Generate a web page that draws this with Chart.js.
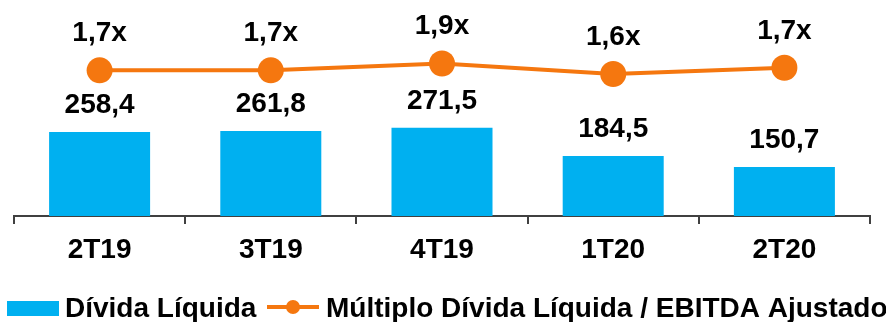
<!DOCTYPE html>
<html>
<head>
<meta charset="utf-8">
<script src="https://cdn.jsdelivr.net/npm/chart.js@4/dist/chart.umd.min.js"></script>
<style>
  html, body { margin: 0; padding: 0; background: #fff; }
  #wrap { width: 886px; height: 322px; position: relative; }
</style>
</head>
<body>
<div id="wrap"><canvas id="divChart"></canvas></div>
<script>
// chart data
const quarters = ['2T19', '3T19', '4T19', '1T20', '2T20'];
const dividaLiquida = [258.4, 261.8, 271.5, 184.5, 150.7];
const multiplo = [1.69, 1.69, 1.90, 1.58, 1.77];
const multiploLabels = ['1,7x', '1,7x', '1,9x', '1,6x', '1,7x'];

const BLUE = '#00B0F0';
const ORANGE = '#F5770F';
const FONT = '"Liberation Sans", Arial, sans-serif';

// value labels above bars and points
const valueLabels = {
    id: 'valueLabels',
    afterDatasetsDraw(chart) {
        const ctx = chart.ctx;
        ctx.save();
        ctx.font = 'bold 28px ' + FONT;
        ctx.fillStyle = '#000';
        ctx.textAlign = 'center';
        ctx.textBaseline = 'alphabetic';
        chart.getDatasetMeta(1).data.forEach((bar, i) => {
            const txt = dividaLiquida[i].toFixed(1).replace('.', ',');
            ctx.fillText(txt, bar.x, bar.y - 19);
        });
        chart.getDatasetMeta(0).data.forEach((pt, i) => {
            ctx.fillText(multiploLabels[i], pt.x, pt.y - 29);
        });
        ctx.restore();
    }
};

// legend: box for bars, line with marker for the multiple
const customLegend = {
    id: 'customLegend',
    afterDraw(chart) {
        const ctx = chart.ctx;
        const base = 317;
        ctx.save();
        ctx.fillStyle = BLUE;
        ctx.fillRect(7, 301, 52, 15);
        ctx.strokeStyle = ORANGE;
        ctx.lineWidth = 4;
        ctx.beginPath();
        ctx.moveTo(267, 307);
        ctx.lineTo(319, 307);
        ctx.stroke();
        ctx.fillStyle = ORANGE;
        ctx.beginPath();
        ctx.arc(293, 307, 7, 0, Math.PI * 2);
        ctx.fill();
        ctx.font = 'bold 28px ' + FONT;
        ctx.fillStyle = '#000';
        ctx.textAlign = 'left';
        ctx.textBaseline = 'alphabetic';
        ctx.fillText(chart.data.datasets[1].label, 65, base);
        ctx.fillText(chart.data.datasets[0].label, 326, base);
        ctx.restore();
    }
};

new Chart(document.getElementById('divChart'), {
    data: {
        labels: quarters,
        datasets: [{
            type: 'line',
            label: 'Múltiplo Dívida Líquida / EBITDA Ajustado',
            data: multiplo,
            yAxisID: 'y2',
            borderColor: ORANGE,
            backgroundColor: ORANGE,
            borderWidth: 4,
            pointRadius: 13,
            pointBorderWidth: 0,
            pointBackgroundColor: ORANGE,
            tension: 0,
            order: 1
        }, {
            type: 'bar',
            label: 'Dívida Líquida',
            data: dividaLiquida,
            yAxisID: 'y',
            backgroundColor: BLUE,
            borderWidth: 0,
            categoryPercentage: 1,
            barPercentage: 0.59,
            order: 2
        }]
    },
    options: {
        responsive: true,
        maintainAspectRatio: false,
        animation: false,
        layout: { autoPadding: false, padding: { left: 14, right: 16, top: 0, bottom: 58 } },
        plugins: {
            legend: { display: false },
            tooltip: { enabled: false }
        },
        scales: {
            x: {
                offset: true,
                grid: {
                    offset: true,
                    drawOnChartArea: false,
                    drawTicks: true,
                    tickLength: 8,
                    color: '#404040',
                    lineWidth: 2
                },
                border: { display: true, color: '#404040', width: 2 },
                ticks: {
                    color: '#000',
                    padding: 9,
                    font: { family: FONT, size: 28, weight: 'bold' }
                },
                afterFit(scale) { scale.height = 48; }
            },
            y: { display: false, min: 0, max: 664.6 },
            y2: { display: false, min: -2.76, max: 3.84 }
        }
    },
    plugins: [valueLabels, customLegend]
});
</script>
</body>
</html>
